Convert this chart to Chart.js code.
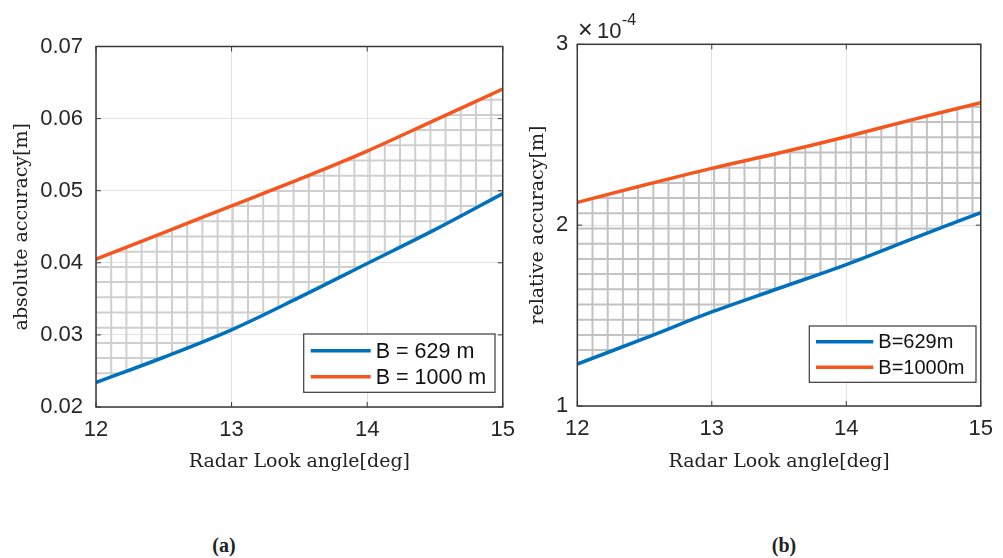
<!DOCTYPE html>
<html>
<head>
<meta charset="utf-8">
<script src="https://cdn.jsdelivr.net/npm/chart.js@4.4.1/dist/chart.umd.min.js"></script>
<style>
html,body{margin:0;padding:0;background:#fff;}
body{width:1003px;height:558px;overflow:hidden;position:relative;}
.wrap{position:absolute;top:0;}
#wa{left:0;width:525px;height:480px;}
#wb{left:520px;width:483px;height:480px;}
.cap{position:absolute;top:545px;font-family:"Liberation Serif","DejaVu Serif",serif;font-weight:bold;font-size:20px;line-height:20px;color:#222;transform:translate(-50%,-50%);}
.mult{position:absolute;font-family:"Liberation Sans",Arial,sans-serif;color:#262626;white-space:nowrap;}
</style>
</head>
<body>
<div class="wrap" id="wa"><canvas id="ca" width="525" height="480"></canvas></div>
<div class="wrap" id="wb"><canvas id="cb" width="483" height="480"></canvas></div>
<span class="mult" style="left:578px;top:17px;font-size:25px;line-height:25px;font-weight:300;">×</span>
<span class="mult" style="left:597px;top:20px;font-size:22px;line-height:22px;">10</span>
<span class="mult" style="left:622px;top:12px;font-size:16px;line-height:16px;">-4</span>
<div class="cap" style="left:224px;">(a)</div>
<div class="cap" style="left:784px;">(b)</div>
<script>
// ---------------- data ----------------
const angles   = [12, 12.5, 13, 13.5, 14, 14.5, 15];
const absB629  = [0.0234, 0.0269, 0.0307, 0.0352, 0.0399, 0.0446, 0.0496];
const absB1000 = [0.0405, 0.0442, 0.0479, 0.0516, 0.0555, 0.0598, 0.0641];
const relB629  = [1.232, 1.374, 1.520, 1.651, 1.782, 1.927, 2.069];   // x 1e-4
const relB1000 = [2.126, 2.222, 2.314, 2.399, 2.489, 2.585, 2.677];   // x 1e-4
const xTicks   = [12, 13, 14, 15];
const absTicks = [0.02, 0.03, 0.04, 0.05, 0.06, 0.07];
const relTicks = [1, 2, 3];
const labelsA  = ['B = 629 m', 'B = 1000 m'];
const labelsB  = ['B=629m', 'B=1000m'];
const xTitle   = 'Radar Look angle[deg]';
const yTitleA  = 'absolute accuracy[m]';
const yTitleB  = 'relative accuracy[m]';

// ---------------- styling ----------------
const BLUE = '#0072BD', ORANGE = '#F5561D', AXIS = '#3a3a3a', GRID = '#e2e2e2';
const SANS = '"Liberation Sans", Arial, sans-serif';
const SERIF = '"DejaVu Serif", "Liberation Serif", serif';

function hatch(color, ox, oy, step, lw) {
  const n = 10, size = Math.round(step * n);
  const c = document.createElement('canvas');
  c.width = size; c.height = size;
  const g = c.getContext('2d');
  g.strokeStyle = color; g.lineWidth = lw;
  g.beginPath();
  for (let i = -1; i <= n; i++) {
    const p = ox + i * step, q = oy + i * step;
    g.moveTo(p, 0); g.lineTo(p, size);
    g.moveTo(0, q); g.lineTo(size, q);
  }
  g.stroke();
  return g.createPattern(c, 'repeat');
}

const framePlugin = {
  id: 'frame',
  afterDatasetsDraw(chart, args, opts) {
    const {ctx, chartArea: a, scales: {x, y}} = chart;
    ctx.save();
    ctx.strokeStyle = AXIS; ctx.lineWidth = 1.5;
    ctx.strokeRect(a.left, a.top, a.right - a.left, a.bottom - a.top);
    ctx.lineWidth = 1;
    const L = 5;
    ctx.beginPath();
    x.ticks.forEach(t => {
      const px = x.getPixelForValue(t.value);
      ctx.moveTo(px, a.bottom); ctx.lineTo(px, a.bottom - L);
      ctx.moveTo(px, a.top); ctx.lineTo(px, a.top + L);
    });
    y.ticks.forEach(t => {
      const py = y.getPixelForValue(t.value);
      ctx.moveTo(a.left, py); ctx.lineTo(a.left + L, py);
      ctx.moveTo(a.right, py); ctx.lineTo(a.right - L, py);
    });
    ctx.stroke();
    const lg = opts.legend;
    ctx.fillStyle = '#fff';
    ctx.fillRect(lg.x, lg.y, lg.w, lg.h);
    ctx.strokeStyle = AXIS; ctx.lineWidth = 1.2;
    ctx.strokeRect(lg.x, lg.y, lg.w, lg.h);
    ctx.font = lg.fontSize + 'px ' + SANS;
    ctx.textBaseline = 'middle'; ctx.textAlign = 'left';
    chart.data.datasets.forEach((ds, i) => {
      const yy = lg.y + lg.rowY[i];
      ctx.strokeStyle = ds.borderColor; ctx.lineWidth = 3.5;
      ctx.beginPath(); ctx.moveTo(lg.x + lg.lineX0, yy); ctx.lineTo(lg.x + lg.lineX1, yy); ctx.stroke();
      ctx.fillStyle = '#111';
      ctx.fillText(ds.label, lg.x + lg.textX, yy + 1);
    });
    ctx.restore();
  }
};

function build(canvasId, p) {
  const ds = (label, vals, color, extra) => Object.assign({
    label, data: angles.map((a, i) => ({x: a, y: vals[i]})),
    borderColor: color, borderWidth: 3.5, pointRadius: 0, tension: 0.35, fill: false
  }, extra || {});
  return new Chart(document.getElementById(canvasId), {
    type: 'line',
    data: {
      datasets: [
        ds(p.labels[0], p.blue, BLUE, {fill: '+1', backgroundColor: p.pattern}),
        ds(p.labels[1], p.orange, ORANGE)
      ]
    },
    options: {
      responsive: false, animation: false, devicePixelRatio: 1,
      layout: {padding: p.padding},
      plugins: {
        legend: {display: false}, tooltip: {enabled: false},
        filler: {drawTime: 'beforeDatasetsDraw'},
        frame: {legend: p.legend}
      },
      scales: {
        x: {
          type: 'linear', min: 12, max: 15,
          afterBuildTicks: s => { s.ticks = xTicks.map(v => ({value: v})); },
          afterFit: s => { s.height = p.xHeight; },
          grid: {color: GRID, lineWidth: 1, drawTicks: false},
          border: {display: false},
          ticks: {padding: 10, color: '#262626', font: {family: SANS, size: 22}, maxRotation: 0, autoSkip: false, callback: v => String(v)},
          title: {display: true, text: xTitle, color: '#222', font: {family: SERIF, size: 19}, padding: {top: 0, bottom: 7}}
        },
        y: {
          type: 'linear', min: p.yMin, max: p.yMax,
          afterBuildTicks: s => { s.ticks = p.yTicks.map(v => ({value: v})); },
          afterFit: s => { s.width = p.yWidth; },
          grid: {color: GRID, lineWidth: 1, drawTicks: false},
          border: {display: false},
          ticks: {padding: p.yPad, color: '#262626', font: {family: SANS, size: 22}, autoSkip: false, callback: p.yFmt},
          title: {display: true, text: p.yTitle, color: '#222', font: {family: SERIF, size: 19}, padding: {top: p.yTitlePad, bottom: 0}}
        }
      }
    },
    plugins: [framePlugin]
  });
}

build('ca', {
  labels: labelsA, blue: absB629, orange: absB1000,
  pattern: hatch('#cfcfcf', 4.8, 8.5, 15.2, 2),
  padding: {top: 46.5, right: 18.5, left: 0, bottom: 0},
  xHeight: 73, yWidth: 96, yPad: 13, yTitlePad: 11,
  yMin: 0.02, yMax: 0.07, yTicks: absTicks, yFmt: v => v.toFixed(2), yTitle: yTitleA,
  legend: {x: 303.7, y: 334, w: 191.3, h: 58.3, rowY: [16.7, 42.7], lineX0: 7, lineX1: 67, textX: 72, fontSize: 21.5}
});

build('cb', {
  labels: labelsB, blue: relB629, orange: relB1000,
  pattern: hatch('#c2c2c2', 11.7, 0.5, 15.2, 2),
  padding: {top: 44.3, right: 14.5, left: 0, bottom: 0},
  xHeight: 74, yWidth: 57.3, yPad: 9, yTitlePad: 7,
  yMin: 1, yMax: 3, yTicks: relTicks, yFmt: v => String(v), yTitle: yTitleB,
  legend: {x: 289.3, y: 326, w: 166.7, h: 56.3, rowY: [15.7, 41.3], lineX0: 6.7, lineX1: 64, textX: 69, fontSize: 20}
});
</script>
</body>
</html>
